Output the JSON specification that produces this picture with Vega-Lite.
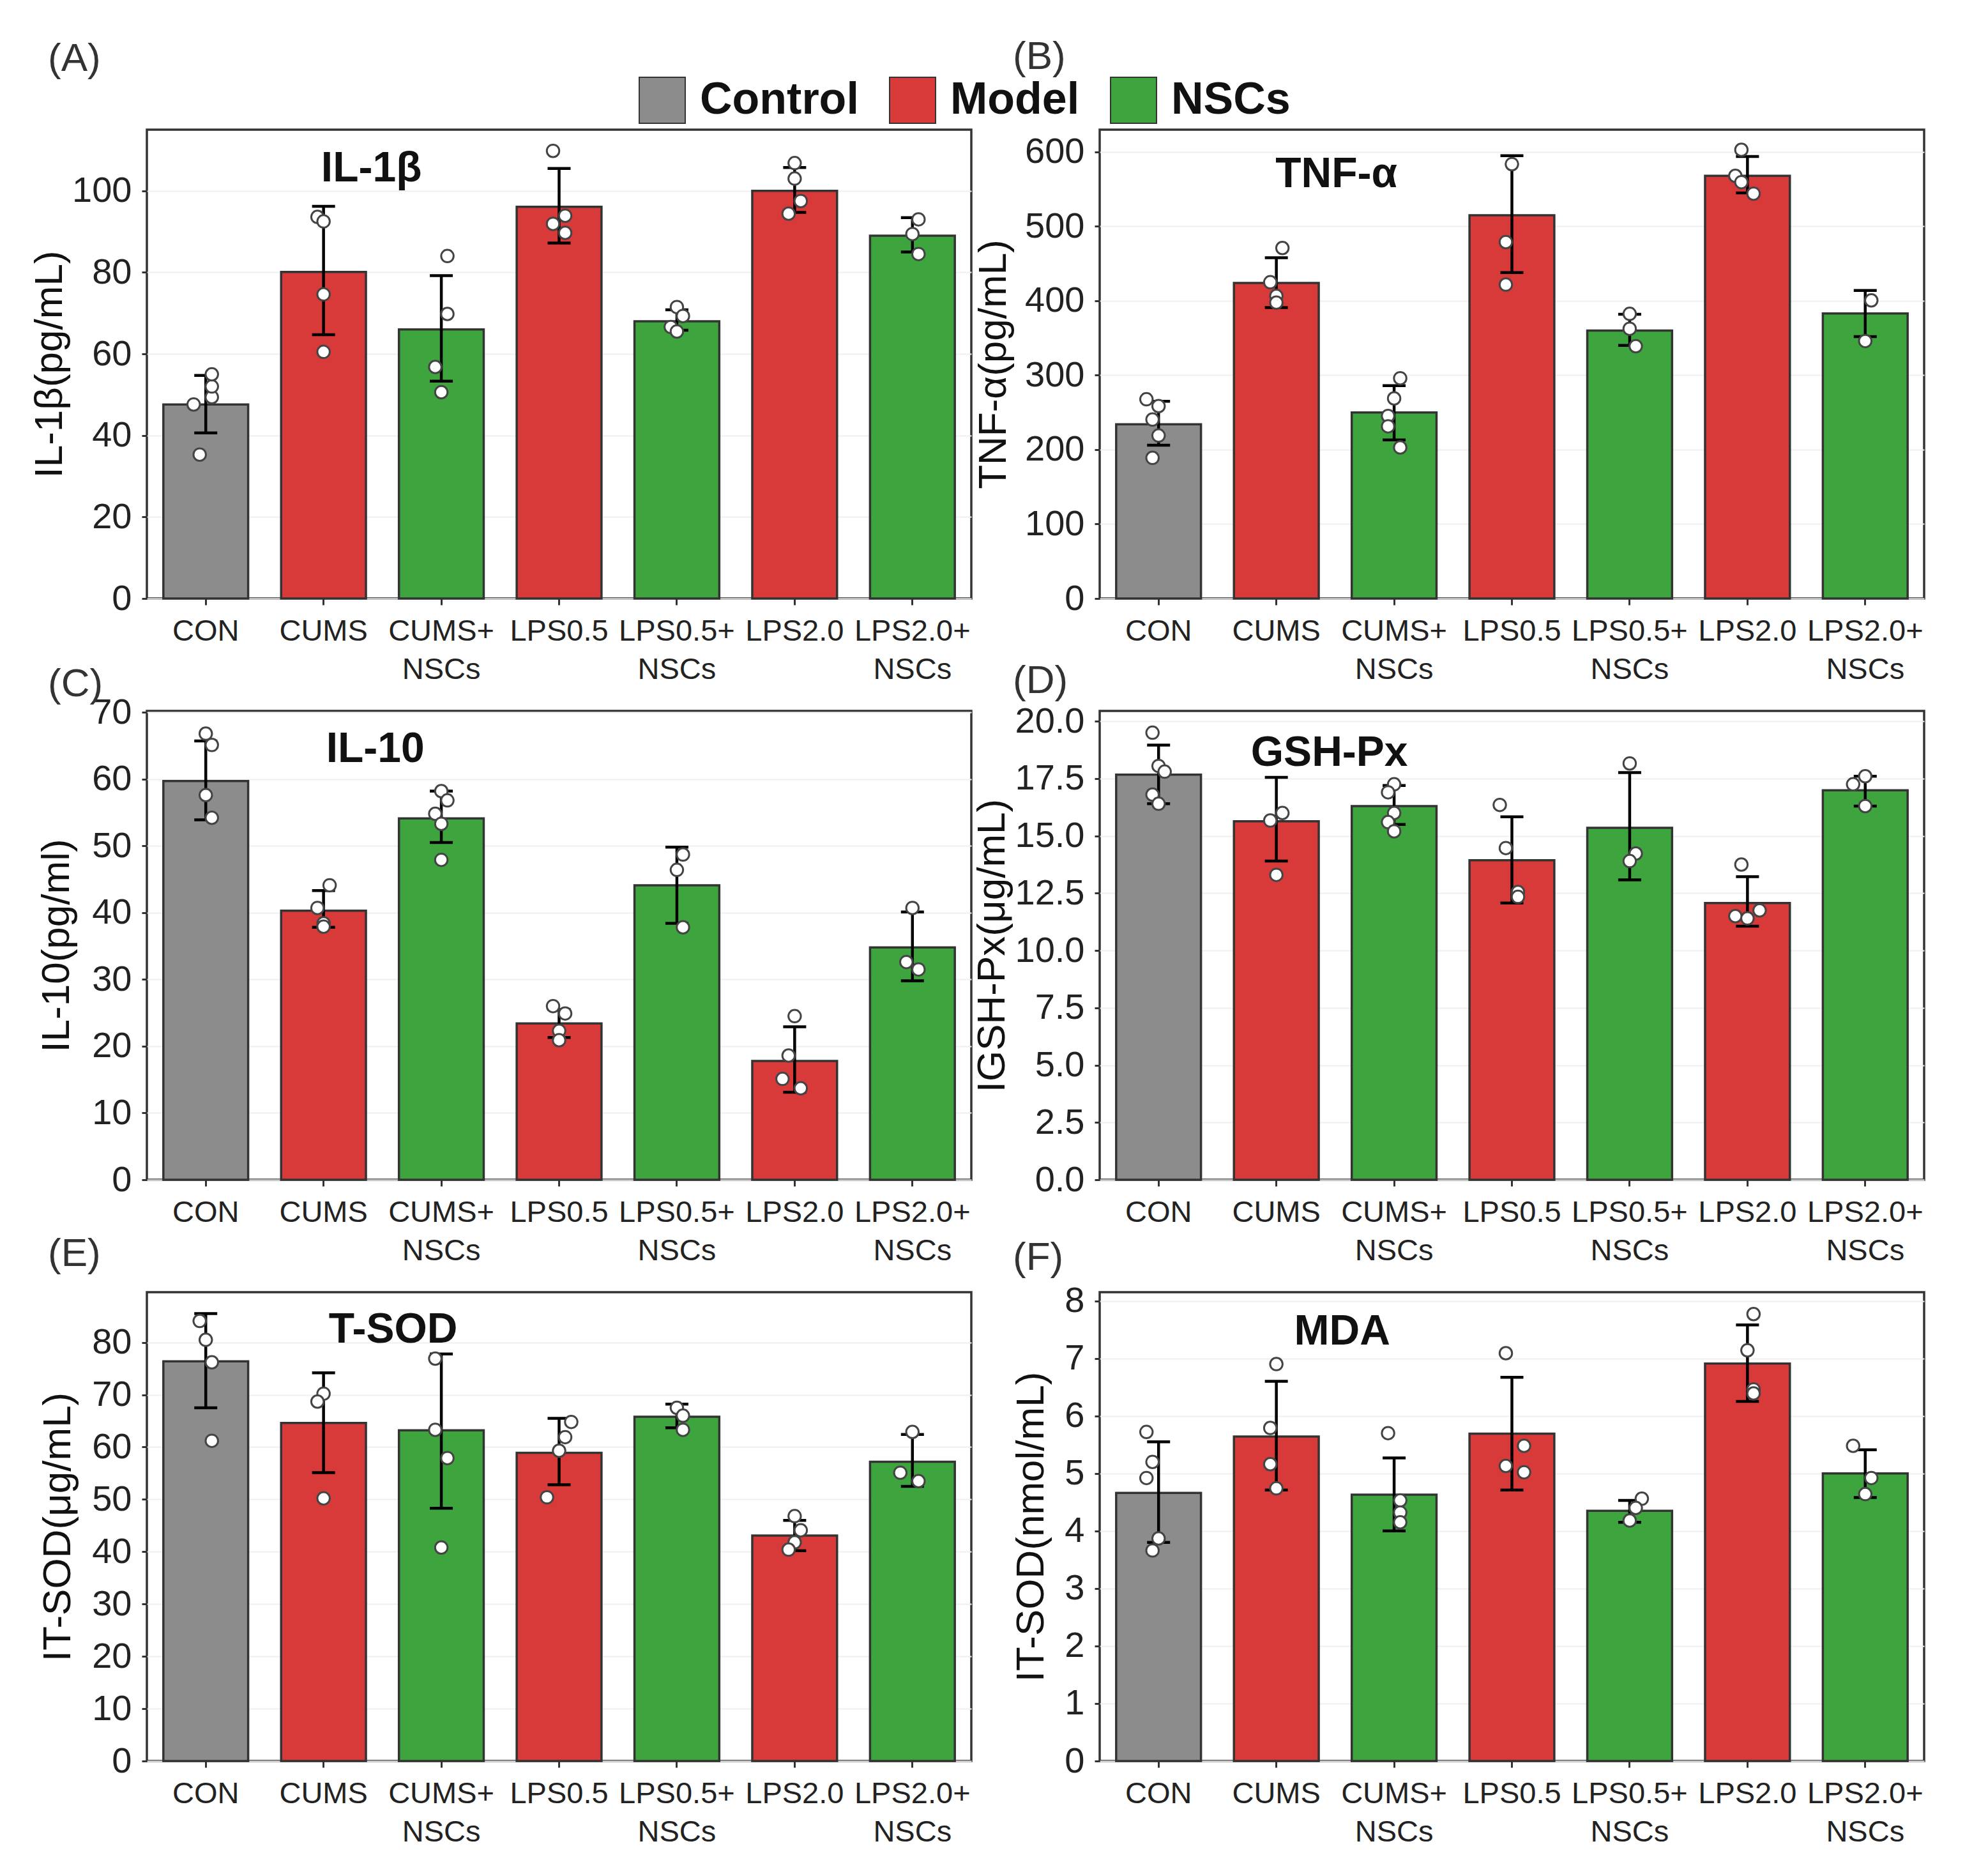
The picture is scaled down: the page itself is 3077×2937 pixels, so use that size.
{
  "$schema": "https://vega.github.io/schema/vega-lite/v6.json",
  "background": "white",
  "padding": {"left": 44, "top": 56, "right": 5, "bottom": 5},
  "datasets": {
    "bars": [
      {"p": "A", "g": "CON", "t": "Control", "m": 47.6, "lo": 40.6, "hi": 54.7},
      {"p": "A", "g": "CUMS", "t": "Model", "m": 80.1, "lo": 64.7, "hi": 96.2},
      {"p": "A", "g": "CUMS+ NSCs", "t": "NSCs", "m": 66.0, "lo": 53.3, "hi": 79.2},
      {"p": "A", "g": "LPS0.5", "t": "Model", "m": 96.1, "lo": 87.2, "hi": 105.5},
      {"p": "A", "g": "LPS0.5+ NSCs", "t": "NSCs", "m": 68.0, "lo": 65.8, "hi": 70.8},
      {"p": "A", "g": "LPS2.0", "t": "Model", "m": 100.0, "lo": 94.7, "hi": 105.7},
      {"p": "A", "g": "LPS2.0+ NSCs", "t": "NSCs", "m": 89.0, "lo": 85.0, "hi": 93.4},
      {"p": "B", "g": "CON", "t": "Control", "m": 234, "lo": 206, "hi": 265},
      {"p": "B", "g": "CUMS", "t": "Model", "m": 424, "lo": 391, "hi": 458},
      {"p": "B", "g": "CUMS+ NSCs", "t": "NSCs", "m": 250, "lo": 213, "hi": 286},
      {"p": "B", "g": "LPS0.5", "t": "Model", "m": 515, "lo": 438, "hi": 595},
      {"p": "B", "g": "LPS0.5+ NSCs", "t": "NSCs", "m": 360, "lo": 340, "hi": 382},
      {"p": "B", "g": "LPS2.0", "t": "Model", "m": 568, "lo": 545, "hi": 594},
      {"p": "B", "g": "LPS2.0+ NSCs", "t": "NSCs", "m": 383, "lo": 352, "hi": 414},
      {"p": "C", "g": "CON", "t": "Control", "m": 59.7, "lo": 53.9, "hi": 65.7},
      {"p": "C", "g": "CUMS", "t": "Model", "m": 40.3, "lo": 37.8, "hi": 43.3},
      {"p": "C", "g": "CUMS+ NSCs", "t": "NSCs", "m": 54.1, "lo": 50.5, "hi": 58.2},
      {"p": "C", "g": "LPS0.5", "t": "Model", "m": 23.4, "lo": 21.3, "hi": 25.5},
      {"p": "C", "g": "LPS0.5+ NSCs", "t": "NSCs", "m": 44.1, "lo": 38.4, "hi": 49.8},
      {"p": "C", "g": "LPS2.0", "t": "Model", "m": 17.8, "lo": 13.1, "hi": 22.9},
      {"p": "C", "g": "LPS2.0+ NSCs", "t": "NSCs", "m": 34.8, "lo": 29.8, "hi": 40.1},
      {"p": "D", "g": "CON", "t": "Control", "m": 17.67, "lo": 16.4, "hi": 18.96},
      {"p": "D", "g": "CUMS", "t": "Model", "m": 15.64, "lo": 13.9, "hi": 17.55},
      {"p": "D", "g": "CUMS+ NSCs", "t": "NSCs", "m": 16.3, "lo": 15.5, "hi": 17.2},
      {"p": "D", "g": "LPS0.5", "t": "Model", "m": 13.94, "lo": 12.07, "hi": 15.83},
      {"p": "D", "g": "LPS0.5+ NSCs", "t": "NSCs", "m": 15.35, "lo": 13.08, "hi": 17.76},
      {"p": "D", "g": "LPS2.0", "t": "Model", "m": 12.07, "lo": 11.06, "hi": 13.22},
      {"p": "D", "g": "LPS2.0+ NSCs", "t": "NSCs", "m": 16.99, "lo": 16.3, "hi": 17.6},
      {"p": "E", "g": "CON", "t": "Control", "m": 76.4, "lo": 67.5, "hi": 85.5},
      {"p": "E", "g": "CUMS", "t": "Model", "m": 64.6, "lo": 55.1, "hi": 74.2},
      {"p": "E", "g": "CUMS+ NSCs", "t": "NSCs", "m": 63.2, "lo": 48.3, "hi": 77.8},
      {"p": "E", "g": "LPS0.5", "t": "Model", "m": 58.9, "lo": 52.8, "hi": 65.5},
      {"p": "E", "g": "LPS0.5+ NSCs", "t": "NSCs", "m": 65.8, "lo": 63.7, "hi": 68.2},
      {"p": "E", "g": "LPS2.0", "t": "Model", "m": 43.1, "lo": 40.2, "hi": 46.0},
      {"p": "E", "g": "LPS2.0+ NSCs", "t": "NSCs", "m": 57.2, "lo": 52.5, "hi": 62.4},
      {"p": "F", "g": "CON", "t": "Control", "m": 4.66, "lo": 3.8, "hi": 5.55},
      {"p": "F", "g": "CUMS", "t": "Model", "m": 5.64, "lo": 4.71, "hi": 6.6},
      {"p": "F", "g": "CUMS+ NSCs", "t": "NSCs", "m": 4.63, "lo": 4.0, "hi": 5.27},
      {"p": "F", "g": "LPS0.5", "t": "Model", "m": 5.69, "lo": 4.71, "hi": 6.67},
      {"p": "F", "g": "LPS0.5+ NSCs", "t": "NSCs", "m": 4.35, "lo": 4.15, "hi": 4.53},
      {"p": "F", "g": "LPS2.0", "t": "Model", "m": 6.91, "lo": 6.25, "hi": 7.58},
      {"p": "F", "g": "LPS2.0+ NSCs", "t": "NSCs", "m": 5.0, "lo": 4.58, "hi": 5.41}
    ],
    "pts": [
      {"p": "A", "g": "CON", "r": 2, "v": 35.3}, {"p": "A", "g": "CON", "r": 1, "v": 47.6}, {"p": "A", "g": "CON", "r": 4, "v": 49.4}, {"p": "A", "g": "CON", "r": 4, "v": 52.0}, {"p": "A", "g": "CON", "r": 4, "v": 55.0},
      {"p": "A", "g": "CUMS", "r": 2, "v": 93.6}, {"p": "A", "g": "CUMS", "r": 3, "v": 92.5}, {"p": "A", "g": "CUMS", "r": 3, "v": 74.6}, {"p": "A", "g": "CUMS", "r": 3, "v": 60.5},
      {"p": "A", "g": "CUMS+ NSCs", "r": 4, "v": 84.0}, {"p": "A", "g": "CUMS+ NSCs", "r": 4, "v": 69.8}, {"p": "A", "g": "CUMS+ NSCs", "r": 2, "v": 56.8}, {"p": "A", "g": "CUMS+ NSCs", "r": 3, "v": 50.6},
      {"p": "A", "g": "LPS0.5", "r": 2, "v": 109.8}, {"p": "A", "g": "LPS0.5", "r": 4, "v": 93.9}, {"p": "A", "g": "LPS0.5", "r": 2, "v": 91.9}, {"p": "A", "g": "LPS0.5", "r": 4, "v": 89.7},
      {"p": "A", "g": "LPS0.5+ NSCs", "r": 3, "v": 71.5}, {"p": "A", "g": "LPS0.5+ NSCs", "r": 4, "v": 69.3}, {"p": "A", "g": "LPS0.5+ NSCs", "r": 2, "v": 66.6}, {"p": "A", "g": "LPS0.5+ NSCs", "r": 3, "v": 65.5},
      {"p": "A", "g": "LPS2.0", "r": 3, "v": 106.8}, {"p": "A", "g": "LPS2.0", "r": 3, "v": 103.0}, {"p": "A", "g": "LPS2.0", "r": 4, "v": 97.5}, {"p": "A", "g": "LPS2.0", "r": 2, "v": 94.4},
      {"p": "A", "g": "LPS2.0+ NSCs", "r": 4, "v": 93.0}, {"p": "A", "g": "LPS2.0+ NSCs", "r": 3, "v": 89.4}, {"p": "A", "g": "LPS2.0+ NSCs", "r": 4, "v": 84.5},
      {"p": "B", "g": "CON", "r": 1, "v": 267.7}, {"p": "B", "g": "CON", "r": 3, "v": 258.6}, {"p": "B", "g": "CON", "r": 2, "v": 240.5}, {"p": "B", "g": "CON", "r": 3, "v": 219}, {"p": "B", "g": "CON", "r": 2, "v": 189},
      {"p": "B", "g": "CUMS", "r": 4, "v": 471}, {"p": "B", "g": "CUMS", "r": 2, "v": 425}, {"p": "B", "g": "CUMS", "r": 3, "v": 406.6}, {"p": "B", "g": "CUMS", "r": 3, "v": 397.6},
      {"p": "B", "g": "CUMS+ NSCs", "r": 4, "v": 296}, {"p": "B", "g": "CUMS+ NSCs", "r": 3, "v": 268.9}, {"p": "B", "g": "CUMS+ NSCs", "r": 2, "v": 245.3}, {"p": "B", "g": "CUMS+ NSCs", "r": 2, "v": 231.4}, {"p": "B", "g": "CUMS+ NSCs", "r": 4, "v": 203},
      {"p": "B", "g": "LPS0.5", "r": 3, "v": 583.7}, {"p": "B", "g": "LPS0.5", "r": 2, "v": 479}, {"p": "B", "g": "LPS0.5", "r": 2, "v": 421.8},
      {"p": "B", "g": "LPS0.5+ NSCs", "r": 3, "v": 382.5}, {"p": "B", "g": "LPS0.5+ NSCs", "r": 3, "v": 362.5}, {"p": "B", "g": "LPS0.5+ NSCs", "r": 4, "v": 339},
      {"p": "B", "g": "LPS2.0", "r": 2, "v": 603}, {"p": "B", "g": "LPS2.0", "r": 1, "v": 568}, {"p": "B", "g": "LPS2.0", "r": 2, "v": 559.5}, {"p": "B", "g": "LPS2.0", "r": 4, "v": 544},
      {"p": "B", "g": "LPS2.0+ NSCs", "r": 4, "v": 400.6}, {"p": "B", "g": "LPS2.0+ NSCs", "r": 3, "v": 346},
      {"p": "C", "g": "CON", "r": 3, "v": 66.8}, {"p": "C", "g": "CON", "r": 4, "v": 65.1}, {"p": "C", "g": "CON", "r": 3, "v": 57.6}, {"p": "C", "g": "CON", "r": 4, "v": 54.2},
      {"p": "C", "g": "CUMS", "r": 4, "v": 44.1}, {"p": "C", "g": "CUMS", "r": 2, "v": 40.7}, {"p": "C", "g": "CUMS", "r": 3, "v": 38.4}, {"p": "C", "g": "CUMS", "r": 3, "v": 37.9},
      {"p": "C", "g": "CUMS+ NSCs", "r": 3, "v": 58.2}, {"p": "C", "g": "CUMS+ NSCs", "r": 4, "v": 56.8}, {"p": "C", "g": "CUMS+ NSCs", "r": 2, "v": 54.8}, {"p": "C", "g": "CUMS+ NSCs", "r": 3, "v": 53.3}, {"p": "C", "g": "CUMS+ NSCs", "r": 3, "v": 47.9},
      {"p": "C", "g": "LPS0.5", "r": 2, "v": 26.0}, {"p": "C", "g": "LPS0.5", "r": 4, "v": 24.9}, {"p": "C", "g": "LPS0.5", "r": 3, "v": 22.3}, {"p": "C", "g": "LPS0.5", "r": 3, "v": 20.9},
      {"p": "C", "g": "LPS0.5+ NSCs", "r": 4, "v": 48.7}, {"p": "C", "g": "LPS0.5+ NSCs", "r": 3, "v": 46.4}, {"p": "C", "g": "LPS0.5+ NSCs", "r": 4, "v": 37.8},
      {"p": "C", "g": "LPS2.0", "r": 3, "v": 24.5}, {"p": "C", "g": "LPS2.0", "r": 2, "v": 18.6}, {"p": "C", "g": "LPS2.0", "r": 1, "v": 15.1}, {"p": "C", "g": "LPS2.0", "r": 4, "v": 13.7},
      {"p": "C", "g": "LPS2.0+ NSCs", "r": 3, "v": 40.7}, {"p": "C", "g": "LPS2.0+ NSCs", "r": 2, "v": 32.6}, {"p": "C", "g": "LPS2.0+ NSCs", "r": 4, "v": 31.5},
      {"p": "D", "g": "CON", "r": 2, "v": 19.5}, {"p": "D", "g": "CON", "r": 3, "v": 18.05}, {"p": "D", "g": "CON", "r": 4, "v": 17.8}, {"p": "D", "g": "CON", "r": 2, "v": 16.8}, {"p": "D", "g": "CON", "r": 3, "v": 16.4},
      {"p": "D", "g": "CUMS", "r": 4, "v": 16.0}, {"p": "D", "g": "CUMS", "r": 2, "v": 15.67}, {"p": "D", "g": "CUMS", "r": 3, "v": 13.3},
      {"p": "D", "g": "CUMS+ NSCs", "r": 3, "v": 17.25}, {"p": "D", "g": "CUMS+ NSCs", "r": 2, "v": 16.9}, {"p": "D", "g": "CUMS+ NSCs", "r": 3, "v": 16.0}, {"p": "D", "g": "CUMS+ NSCs", "r": 2, "v": 15.6}, {"p": "D", "g": "CUMS+ NSCs", "r": 3, "v": 15.2},
      {"p": "D", "g": "LPS0.5", "r": 1, "v": 16.35}, {"p": "D", "g": "LPS0.5", "r": 2, "v": 14.47}, {"p": "D", "g": "LPS0.5", "r": 4, "v": 12.55}, {"p": "D", "g": "LPS0.5", "r": 4, "v": 12.34},
      {"p": "D", "g": "LPS0.5+ NSCs", "r": 3, "v": 18.16}, {"p": "D", "g": "LPS0.5+ NSCs", "r": 4, "v": 14.23}, {"p": "D", "g": "LPS0.5+ NSCs", "r": 3, "v": 13.9},
      {"p": "D", "g": "LPS2.0", "r": 2, "v": 13.75}, {"p": "D", "g": "LPS2.0", "r": 5, "v": 11.75}, {"p": "D", "g": "LPS2.0", "r": 1, "v": 11.5}, {"p": "D", "g": "LPS2.0", "r": 3, "v": 11.4},
      {"p": "D", "g": "LPS2.0+ NSCs", "r": 3, "v": 17.6}, {"p": "D", "g": "LPS2.0+ NSCs", "r": 1, "v": 17.25}, {"p": "D", "g": "LPS2.0+ NSCs", "r": 3, "v": 16.3},
      {"p": "E", "g": "CON", "r": 2, "v": 84.1}, {"p": "E", "g": "CON", "r": 3, "v": 80.5}, {"p": "E", "g": "CON", "r": 4, "v": 76.2}, {"p": "E", "g": "CON", "r": 4, "v": 61.2},
      {"p": "E", "g": "CUMS", "r": 3, "v": 70.2}, {"p": "E", "g": "CUMS", "r": 2, "v": 68.7}, {"p": "E", "g": "CUMS", "r": 3, "v": 50.2},
      {"p": "E", "g": "CUMS+ NSCs", "r": 2, "v": 76.9}, {"p": "E", "g": "CUMS+ NSCs", "r": 2, "v": 63.3}, {"p": "E", "g": "CUMS+ NSCs", "r": 4, "v": 57.9}, {"p": "E", "g": "CUMS+ NSCs", "r": 3, "v": 40.8},
      {"p": "E", "g": "LPS0.5", "r": 5, "v": 64.8}, {"p": "E", "g": "LPS0.5", "r": 4, "v": 61.9}, {"p": "E", "g": "LPS0.5", "r": 3, "v": 59.3}, {"p": "E", "g": "LPS0.5", "r": 1, "v": 50.4},
      {"p": "E", "g": "LPS0.5+ NSCs", "r": 3, "v": 67.5}, {"p": "E", "g": "LPS0.5+ NSCs", "r": 4, "v": 66.0}, {"p": "E", "g": "LPS0.5+ NSCs", "r": 4, "v": 63.3},
      {"p": "E", "g": "LPS2.0", "r": 3, "v": 46.8}, {"p": "E", "g": "LPS2.0", "r": 4, "v": 44.1}, {"p": "E", "g": "LPS2.0", "r": 3, "v": 41.8}, {"p": "E", "g": "LPS2.0", "r": 2, "v": 40.4},
      {"p": "E", "g": "LPS2.0+ NSCs", "r": 3, "v": 62.9}, {"p": "E", "g": "LPS2.0+ NSCs", "r": 1, "v": 55.1}, {"p": "E", "g": "LPS2.0+ NSCs", "r": 4, "v": 53.5},
      {"p": "F", "g": "CON", "r": 1, "v": 5.72}, {"p": "F", "g": "CON", "r": 2, "v": 5.2}, {"p": "F", "g": "CON", "r": 1, "v": 4.92}, {"p": "F", "g": "CON", "r": 3, "v": 3.87}, {"p": "F", "g": "CON", "r": 2, "v": 3.66},
      {"p": "F", "g": "CUMS", "r": 3, "v": 6.9}, {"p": "F", "g": "CUMS", "r": 2, "v": 5.79}, {"p": "F", "g": "CUMS", "r": 2, "v": 5.16}, {"p": "F", "g": "CUMS", "r": 3, "v": 4.74},
      {"p": "F", "g": "CUMS+ NSCs", "r": 2, "v": 5.7}, {"p": "F", "g": "CUMS+ NSCs", "r": 4, "v": 4.53}, {"p": "F", "g": "CUMS+ NSCs", "r": 4, "v": 4.32}, {"p": "F", "g": "CUMS+ NSCs", "r": 4, "v": 4.15},
      {"p": "F", "g": "LPS0.5", "r": 2, "v": 7.09}, {"p": "F", "g": "LPS0.5", "r": 5, "v": 5.48}, {"p": "F", "g": "LPS0.5", "r": 2, "v": 5.13}, {"p": "F", "g": "LPS0.5", "r": 5, "v": 5.02},
      {"p": "F", "g": "LPS0.5+ NSCs", "r": 5, "v": 4.56}, {"p": "F", "g": "LPS0.5+ NSCs", "r": 4, "v": 4.4}, {"p": "F", "g": "LPS0.5+ NSCs", "r": 3, "v": 4.18},
      {"p": "F", "g": "LPS2.0", "r": 4, "v": 7.77}, {"p": "F", "g": "LPS2.0", "r": 3, "v": 7.14}, {"p": "F", "g": "LPS2.0", "r": 4, "v": 6.46}, {"p": "F", "g": "LPS2.0", "r": 4, "v": 6.39},
      {"p": "F", "g": "LPS2.0+ NSCs", "r": 1, "v": 5.48}, {"p": "F", "g": "LPS2.0+ NSCs", "r": 4, "v": 4.92}, {"p": "F", "g": "LPS2.0+ NSCs", "r": 3, "v": 4.64}
    ]
  },
  "columns": 2,
  "bounds": "flush",
  "spacing": {"row": 176, "column": 201},
  "resolve": {
    "scale": {"x": "independent", "y": "independent", "fill": "independent"},
    "legend": {"fill": "independent"}
  },
  "concat": [
    {
      "width": 1291, "height": 734,
      "title": {"text": "(A)", "dx": -155, "offset": -4},
      "layer": [
        {
          "data": {"name": "bars"},
          "transform": [{"filter": "datum.p === 'A'"}],
          "mark": {"type": "bar", "stroke": "#333333", "strokeWidth": 3.5},
          "encoding": {
            "x": {"field": "g", "type": "nominal", "title": null, "scale": {"domain": ["CON", "CUMS", "CUMS+ NSCs", "LPS0.5", "LPS0.5+ NSCs", "LPS2.0", "LPS2.0+ NSCs"], "paddingInner": 0.28, "paddingOuter": 0.14}, "axis": {"labelExpr": "split(datum.label, ' ')"}},
            "y": {"field": "m", "type": "quantitative", "scale": {"domain": [0, 115], "nice": false}, "axis": {"values": [0, 20, 40, 60, 80, 100], "format": "d", "titleX": -121}, "title": "IL-1β(pg/mL)"},
            "fill": {"field": "t", "type": "nominal", "scale": {"domain": ["Control", "Model", "NSCs"], "range": ["#8c8c8c", "#d83a3a", "#3ea53e"]},
              "legend": {"orient": "none", "legendX": 770, "legendY": -83, "direction": "horizontal", "title": null, "symbolType": "square", "symbolSize": 5184, "symbolStrokeColor": "#333333", "symbolStrokeWidth": 2, "labelFont": "Liberation Sans", "labelFontSize": 70, "labelFontWeight": "bold", "labelColor": "#111111", "labelOffset": 22, "labelLimit": 500, "columnPadding": 44, "padding": 0}}
          }
        },
        {
          "data": {"name": "bars"},
          "transform": [{"filter": "datum.p === 'A'"}],
          "mark": {"type": "rule", "strokeWidth": 4.5, "color": "black"},
          "encoding": {"x": {"field": "g", "type": "nominal"}, "y": {"field": "lo", "type": "quantitative", "title": "IL-1β(pg/mL)"}, "y2": {"field": "hi"}}
        },
        {
          "data": {"name": "bars"},
          "transform": [{"filter": "datum.p === 'A'"}],
          "mark": {"type": "tick", "orient": "horizontal", "size": 36, "thickness": 4.5, "color": "black", "opacity": 1},
          "encoding": {"x": {"field": "g", "type": "nominal"}, "y": {"field": "lo", "type": "quantitative", "title": "IL-1β(pg/mL)"}}
        },
        {
          "data": {"name": "bars"},
          "transform": [{"filter": "datum.p === 'A'"}],
          "mark": {"type": "tick", "orient": "horizontal", "size": 36, "thickness": 4.5, "color": "black", "opacity": 1},
          "encoding": {"x": {"field": "g", "type": "nominal"}, "y": {"field": "hi", "type": "quantitative", "title": "IL-1β(pg/mL)"}}
        },
        {
          "data": {"name": "pts"},
          "transform": [{"filter": "datum.p === 'A'"}],
          "mark": {"type": "circle", "size": 380, "fill": "white", "stroke": "#444444", "strokeWidth": 3, "opacity": 1, "xOffset": {"expr": "(datum.r - 3) * 9.5"}},
          "encoding": {"x": {"field": "g", "type": "nominal"}, "y": {"field": "v", "type": "quantitative", "title": "IL-1β(pg/mL)"}}
        },
        {
          "data": {"values": [{"label": "IL-1β"}]},
          "mark": {"type": "text", "fontSize": 66, "fontWeight": "bold", "color": "#111111", "dx": 75, "baseline": "middle"},
          "encoding": {"x": {"datum": "CUMS", "type": "nominal"}, "y": {"datum": 105.4, "type": "quantitative", "title": "IL-1β(pg/mL)"}, "text": {"field": "label"}}
        }
      ]
    },
    {
      "width": 1291, "height": 734,
      "title": {"text": "(B)", "dx": -136, "offset": 82},
      "layer": [
        {
          "data": {"name": "bars"},
          "transform": [{"filter": "datum.p === 'B'"}],
          "mark": {"type": "bar", "stroke": "#333333", "strokeWidth": 3.5},
          "encoding": {
            "x": {"field": "g", "type": "nominal", "title": null, "scale": {"domain": ["CON", "CUMS", "CUMS+ NSCs", "LPS0.5", "LPS0.5+ NSCs", "LPS2.0", "LPS2.0+ NSCs"], "paddingInner": 0.28, "paddingOuter": 0.14}, "axis": {"labelExpr": "split(datum.label, ' ')"}},
            "y": {"field": "m", "type": "quantitative", "scale": {"domain": [0, 630], "nice": false}, "axis": {"values": [0, 100, 200, 300, 400, 500, 600], "format": "d", "titleX": -135}, "title": "TNF-α(pg/mL)"},
            "fill": {"field": "t", "type": "nominal", "scale": {"domain": ["Control", "Model", "NSCs"], "range": ["#8c8c8c", "#d83a3a", "#3ea53e"]}, "legend": null}
          }
        },
        {
          "data": {"name": "bars"},
          "transform": [{"filter": "datum.p === 'B'"}],
          "mark": {"type": "rule", "strokeWidth": 4.5, "color": "black"},
          "encoding": {"x": {"field": "g", "type": "nominal"}, "y": {"field": "lo", "type": "quantitative", "title": "TNF-α(pg/mL)"}, "y2": {"field": "hi"}}
        },
        {
          "data": {"name": "bars"},
          "transform": [{"filter": "datum.p === 'B'"}],
          "mark": {"type": "tick", "orient": "horizontal", "size": 36, "thickness": 4.5, "color": "black", "opacity": 1},
          "encoding": {"x": {"field": "g", "type": "nominal"}, "y": {"field": "lo", "type": "quantitative", "title": "TNF-α(pg/mL)"}}
        },
        {
          "data": {"name": "bars"},
          "transform": [{"filter": "datum.p === 'B'"}],
          "mark": {"type": "tick", "orient": "horizontal", "size": 36, "thickness": 4.5, "color": "black", "opacity": 1},
          "encoding": {"x": {"field": "g", "type": "nominal"}, "y": {"field": "hi", "type": "quantitative", "title": "TNF-α(pg/mL)"}}
        },
        {
          "data": {"name": "pts"},
          "transform": [{"filter": "datum.p === 'B'"}],
          "mark": {"type": "circle", "size": 380, "fill": "white", "stroke": "#444444", "strokeWidth": 3, "opacity": 1, "xOffset": {"expr": "(datum.r - 3) * 9.5"}},
          "encoding": {"x": {"field": "g", "type": "nominal"}, "y": {"field": "v", "type": "quantitative", "title": "TNF-α(pg/mL)"}}
        },
        {
          "data": {"values": [{"label": "TNF-α"}]},
          "mark": {"type": "text", "fontSize": 66, "fontWeight": "bold", "color": "#111111", "dx": 94, "baseline": "middle"},
          "encoding": {"x": {"datum": "CUMS", "type": "nominal"}, "y": {"datum": 570, "type": "quantitative", "title": "TNF-α(pg/mL)"}, "text": {"field": "label"}}
        }
      ]
    },
    {
      "width": 1291, "height": 734,
      "title": {"text": "(C)", "dx": -155, "offset": -16},
      "layer": [
        {
          "data": {"name": "bars"},
          "transform": [{"filter": "datum.p === 'C'"}],
          "mark": {"type": "bar", "stroke": "#333333", "strokeWidth": 3.5},
          "encoding": {
            "x": {"field": "g", "type": "nominal", "title": null, "scale": {"domain": ["CON", "CUMS", "CUMS+ NSCs", "LPS0.5", "LPS0.5+ NSCs", "LPS2.0", "LPS2.0+ NSCs"], "paddingInner": 0.28, "paddingOuter": 0.14}, "axis": {"labelExpr": "split(datum.label, ' ')"}},
            "y": {"field": "m", "type": "quantitative", "scale": {"domain": [0, 70.2], "nice": false}, "axis": {"values": [0, 10, 20, 30, 40, 50, 60, 70], "format": "d", "titleX": -110}, "title": "IL-10(pg/ml)"},
            "fill": {"field": "t", "type": "nominal", "scale": {"domain": ["Control", "Model", "NSCs"], "range": ["#8c8c8c", "#d83a3a", "#3ea53e"]}, "legend": null}
          }
        },
        {
          "data": {"name": "bars"},
          "transform": [{"filter": "datum.p === 'C'"}],
          "mark": {"type": "rule", "strokeWidth": 4.5, "color": "black"},
          "encoding": {"x": {"field": "g", "type": "nominal"}, "y": {"field": "lo", "type": "quantitative", "title": "IL-10(pg/ml)"}, "y2": {"field": "hi"}}
        },
        {
          "data": {"name": "bars"},
          "transform": [{"filter": "datum.p === 'C'"}],
          "mark": {"type": "tick", "orient": "horizontal", "size": 36, "thickness": 4.5, "color": "black", "opacity": 1},
          "encoding": {"x": {"field": "g", "type": "nominal"}, "y": {"field": "lo", "type": "quantitative", "title": "IL-10(pg/ml)"}}
        },
        {
          "data": {"name": "bars"},
          "transform": [{"filter": "datum.p === 'C'"}],
          "mark": {"type": "tick", "orient": "horizontal", "size": 36, "thickness": 4.5, "color": "black", "opacity": 1},
          "encoding": {"x": {"field": "g", "type": "nominal"}, "y": {"field": "hi", "type": "quantitative", "title": "IL-10(pg/ml)"}}
        },
        {
          "data": {"name": "pts"},
          "transform": [{"filter": "datum.p === 'C'"}],
          "mark": {"type": "circle", "size": 380, "fill": "white", "stroke": "#444444", "strokeWidth": 3, "opacity": 1, "xOffset": {"expr": "(datum.r - 3) * 9.5"}},
          "encoding": {"x": {"field": "g", "type": "nominal"}, "y": {"field": "v", "type": "quantitative", "title": "IL-10(pg/ml)"}}
        },
        {
          "data": {"values": [{"label": "IL-10"}]},
          "mark": {"type": "text", "fontSize": 66, "fontWeight": "bold", "color": "#111111", "dx": 81, "baseline": "middle"},
          "encoding": {"x": {"datum": "CUMS", "type": "nominal"}, "y": {"datum": 64.5, "type": "quantitative", "title": "IL-10(pg/ml)"}, "text": {"field": "label"}}
        }
      ]
    },
    {
      "width": 1291, "height": 734,
      "title": {"text": "(D)", "dx": -136, "offset": 3},
      "layer": [
        {
          "data": {"name": "bars"},
          "transform": [{"filter": "datum.p === 'D'"}],
          "mark": {"type": "bar", "stroke": "#333333", "strokeWidth": 3.5},
          "encoding": {
            "x": {"field": "g", "type": "nominal", "title": null, "scale": {"domain": ["CON", "CUMS", "CUMS+ NSCs", "LPS0.5", "LPS0.5+ NSCs", "LPS2.0", "LPS2.0+ NSCs"], "paddingInner": 0.28, "paddingOuter": 0.14}, "axis": {"labelExpr": "split(datum.label, ' ')"}},
            "y": {"field": "m", "type": "quantitative", "scale": {"domain": [0, 20.45], "nice": false}, "axis": {"values": [0, 2.5, 5, 7.5, 10, 12.5, 15, 17.5, 20], "format": ".1f", "titleX": -137}, "title": "IGSH-Px(μg/mL)"},
            "fill": {"field": "t", "type": "nominal", "scale": {"domain": ["Control", "Model", "NSCs"], "range": ["#8c8c8c", "#d83a3a", "#3ea53e"]}, "legend": null}
          }
        },
        {
          "data": {"name": "bars"},
          "transform": [{"filter": "datum.p === 'D'"}],
          "mark": {"type": "rule", "strokeWidth": 4.5, "color": "black"},
          "encoding": {"x": {"field": "g", "type": "nominal"}, "y": {"field": "lo", "type": "quantitative", "title": "IGSH-Px(μg/mL)"}, "y2": {"field": "hi"}}
        },
        {
          "data": {"name": "bars"},
          "transform": [{"filter": "datum.p === 'D'"}],
          "mark": {"type": "tick", "orient": "horizontal", "size": 36, "thickness": 4.5, "color": "black", "opacity": 1},
          "encoding": {"x": {"field": "g", "type": "nominal"}, "y": {"field": "lo", "type": "quantitative", "title": "IGSH-Px(μg/mL)"}}
        },
        {
          "data": {"name": "bars"},
          "transform": [{"filter": "datum.p === 'D'"}],
          "mark": {"type": "tick", "orient": "horizontal", "size": 36, "thickness": 4.5, "color": "black", "opacity": 1},
          "encoding": {"x": {"field": "g", "type": "nominal"}, "y": {"field": "hi", "type": "quantitative", "title": "IGSH-Px(μg/mL)"}}
        },
        {
          "data": {"name": "pts"},
          "transform": [{"filter": "datum.p === 'D'"}],
          "mark": {"type": "circle", "size": 380, "fill": "white", "stroke": "#444444", "strokeWidth": 3, "opacity": 1, "xOffset": {"expr": "(datum.r - 3) * 9.5"}},
          "encoding": {"x": {"field": "g", "type": "nominal"}, "y": {"field": "v", "type": "quantitative", "title": "IGSH-Px(μg/mL)"}}
        },
        {
          "data": {"values": [{"label": "GSH-Px"}]},
          "mark": {"type": "text", "fontSize": 66, "fontWeight": "bold", "color": "#111111", "dx": 83, "baseline": "middle"},
          "encoding": {"x": {"datum": "CUMS", "type": "nominal"}, "y": {"datum": 18.6, "type": "quantitative", "title": "IGSH-Px(μg/mL)"}, "text": {"field": "label"}}
        }
      ]
    },
    {
      "width": 1291, "height": 734,
      "title": {"text": "(E)", "dx": -155, "offset": 28},
      "layer": [
        {
          "data": {"name": "bars"},
          "transform": [{"filter": "datum.p === 'E'"}],
          "mark": {"type": "bar", "stroke": "#333333", "strokeWidth": 3.5},
          "encoding": {
            "x": {"field": "g", "type": "nominal", "title": null, "scale": {"domain": ["CON", "CUMS", "CUMS+ NSCs", "LPS0.5", "LPS0.5+ NSCs", "LPS2.0", "LPS2.0+ NSCs"], "paddingInner": 0.28, "paddingOuter": 0.14}, "axis": {"labelExpr": "split(datum.label, ' ')"}},
            "y": {"field": "m", "type": "quantitative", "scale": {"domain": [0, 89.6], "nice": false}, "axis": {"values": [0, 10, 20, 30, 40, 50, 60, 70, 80], "format": "d", "titleX": -108}, "title": "IT-SOD(μg/mL)"},
            "fill": {"field": "t", "type": "nominal", "scale": {"domain": ["Control", "Model", "NSCs"], "range": ["#8c8c8c", "#d83a3a", "#3ea53e"]}, "legend": null}
          }
        },
        {
          "data": {"name": "bars"},
          "transform": [{"filter": "datum.p === 'E'"}],
          "mark": {"type": "rule", "strokeWidth": 4.5, "color": "black"},
          "encoding": {"x": {"field": "g", "type": "nominal"}, "y": {"field": "lo", "type": "quantitative", "title": "IT-SOD(μg/mL)"}, "y2": {"field": "hi"}}
        },
        {
          "data": {"name": "bars"},
          "transform": [{"filter": "datum.p === 'E'"}],
          "mark": {"type": "tick", "orient": "horizontal", "size": 36, "thickness": 4.5, "color": "black", "opacity": 1},
          "encoding": {"x": {"field": "g", "type": "nominal"}, "y": {"field": "lo", "type": "quantitative", "title": "IT-SOD(μg/mL)"}}
        },
        {
          "data": {"name": "bars"},
          "transform": [{"filter": "datum.p === 'E'"}],
          "mark": {"type": "tick", "orient": "horizontal", "size": 36, "thickness": 4.5, "color": "black", "opacity": 1},
          "encoding": {"x": {"field": "g", "type": "nominal"}, "y": {"field": "hi", "type": "quantitative", "title": "IT-SOD(μg/mL)"}}
        },
        {
          "data": {"name": "pts"},
          "transform": [{"filter": "datum.p === 'E'"}],
          "mark": {"type": "circle", "size": 380, "fill": "white", "stroke": "#444444", "strokeWidth": 3, "opacity": 1, "xOffset": {"expr": "(datum.r - 3) * 9.5"}},
          "encoding": {"x": {"field": "g", "type": "nominal"}, "y": {"field": "v", "type": "quantitative", "title": "IT-SOD(μg/mL)"}}
        },
        {
          "data": {"values": [{"label": "T-SOD"}]},
          "mark": {"type": "text", "fontSize": 66, "fontWeight": "bold", "color": "#111111", "dx": 109, "baseline": "middle"},
          "encoding": {"x": {"datum": "CUMS", "type": "nominal"}, "y": {"datum": 82.4, "type": "quantitative", "title": "IT-SOD(μg/mL)"}, "text": {"field": "label"}}
        }
      ]
    },
    {
      "width": 1291, "height": 734,
      "title": {"text": "(F)", "dx": -136, "offset": 8},
      "layer": [
        {
          "data": {"name": "bars"},
          "transform": [{"filter": "datum.p === 'F'"}],
          "mark": {"type": "bar", "stroke": "#333333", "strokeWidth": 3.5},
          "encoding": {
            "x": {"field": "g", "type": "nominal", "title": null, "scale": {"domain": ["CON", "CUMS", "CUMS+ NSCs", "LPS0.5", "LPS0.5+ NSCs", "LPS2.0", "LPS2.0+ NSCs"], "paddingInner": 0.28, "paddingOuter": 0.14}, "axis": {"labelExpr": "split(datum.label, ' ')"}},
            "y": {"field": "m", "type": "quantitative", "scale": {"domain": [0, 8.15], "nice": false}, "axis": {"values": [0, 1, 2, 3, 4, 5, 6, 7, 8], "format": "d", "titleX": -76}, "title": "IT-SOD(nmol/mL)"},
            "fill": {"field": "t", "type": "nominal", "scale": {"domain": ["Control", "Model", "NSCs"], "range": ["#8c8c8c", "#d83a3a", "#3ea53e"]}, "legend": null}
          }
        },
        {
          "data": {"name": "bars"},
          "transform": [{"filter": "datum.p === 'F'"}],
          "mark": {"type": "rule", "strokeWidth": 4.5, "color": "black"},
          "encoding": {"x": {"field": "g", "type": "nominal"}, "y": {"field": "lo", "type": "quantitative", "title": "IT-SOD(nmol/mL)"}, "y2": {"field": "hi"}}
        },
        {
          "data": {"name": "bars"},
          "transform": [{"filter": "datum.p === 'F'"}],
          "mark": {"type": "tick", "orient": "horizontal", "size": 36, "thickness": 4.5, "color": "black", "opacity": 1},
          "encoding": {"x": {"field": "g", "type": "nominal"}, "y": {"field": "lo", "type": "quantitative", "title": "IT-SOD(nmol/mL)"}}
        },
        {
          "data": {"name": "bars"},
          "transform": [{"filter": "datum.p === 'F'"}],
          "mark": {"type": "tick", "orient": "horizontal", "size": 36, "thickness": 4.5, "color": "black", "opacity": 1},
          "encoding": {"x": {"field": "g", "type": "nominal"}, "y": {"field": "hi", "type": "quantitative", "title": "IT-SOD(nmol/mL)"}}
        },
        {
          "data": {"name": "pts"},
          "transform": [{"filter": "datum.p === 'F'"}],
          "mark": {"type": "circle", "size": 380, "fill": "white", "stroke": "#444444", "strokeWidth": 3, "opacity": 1, "xOffset": {"expr": "(datum.r - 3) * 9.5"}},
          "encoding": {"x": {"field": "g", "type": "nominal"}, "y": {"field": "v", "type": "quantitative", "title": "IT-SOD(nmol/mL)"}}
        },
        {
          "data": {"values": [{"label": "MDA"}]},
          "mark": {"type": "text", "fontSize": 66, "fontWeight": "bold", "color": "#111111", "dx": 103, "baseline": "middle"},
          "encoding": {"x": {"datum": "CUMS", "type": "nominal"}, "y": {"datum": 7.46, "type": "quantitative", "title": "IT-SOD(nmol/mL)"}, "text": {"field": "label"}}
        }
      ]
    }
  ],
  "config": {
    "font": "Liberation Sans",
    "view": {"stroke": "#333333", "strokeWidth": 3.5},
    "title": {"font": "Liberation Sans", "fontSize": 62, "fontWeight": "normal", "color": "#333333", "anchor": "start", "frame": "group"},
    "text": {"font": "Liberation Sans"},
    "axis": {"labelFont": "Liberation Sans", "titleFont": "Liberation Sans", "labelColor": "#222222", "titleColor": "#111111", "tickColor": "#333333", "domain": false},
    "axisX": {"labelFontSize": 47, "labelAngle": 0, "labelLimit": 0, "tickSize": 10, "tickWidth": 3, "labelPadding": 18, "labelLineHeight": 60, "grid": false},
    "axisY": {"labelFontSize": 56, "tickSize": 8, "tickWidth": 3, "labelPadding": 16, "grid": true, "gridColor": "#f0f0f0", "gridWidth": 2, "titleFontSize": 62, "titleFontWeight": "normal"}
  }
}
